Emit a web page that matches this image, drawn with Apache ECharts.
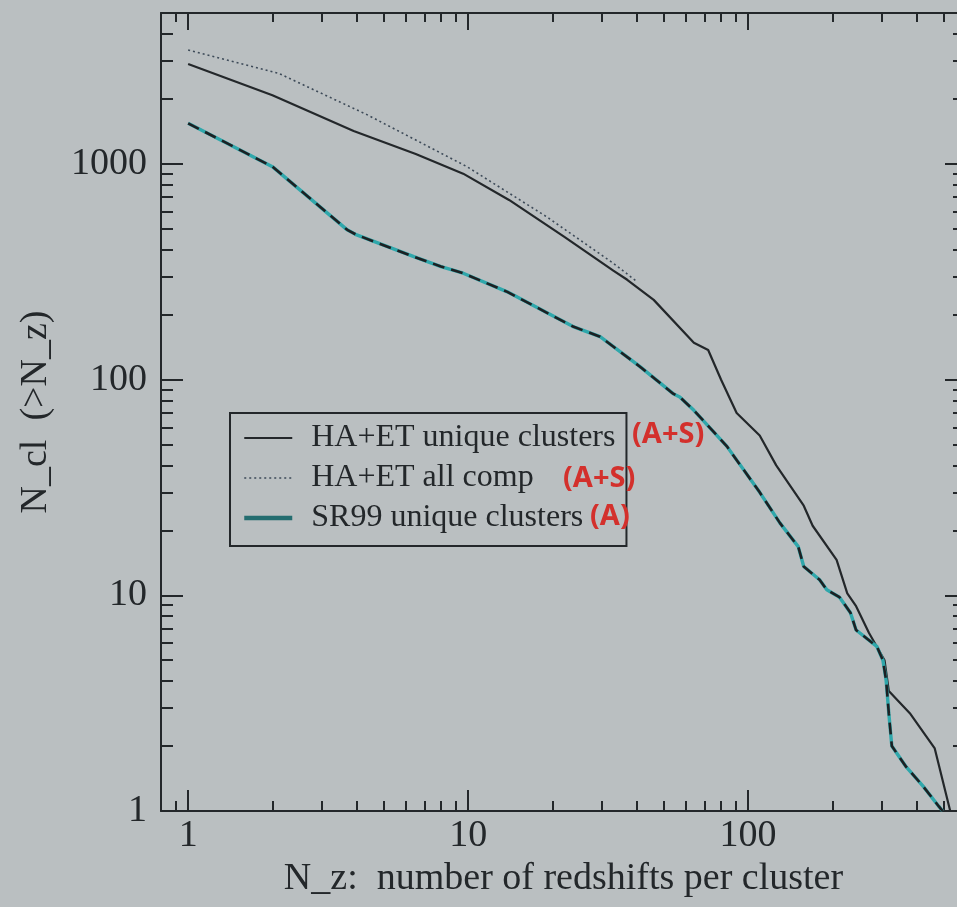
<!DOCTYPE html>
<html>
<head>
<meta charset="utf-8">
<script src="https://cdn.jsdelivr.net/npm/echarts@6/dist/echarts.min.js"></script>
<style>
html,body{margin:0;padding:0;background:#babfc1;}
#chart{width:957px;height:907px;}
</style>
</head>
<body>
<div id="chart"></div>
<script>
// ---- data (N_z, N_cl(>N_z)) ----
const haetUnique = [[1,2900],[2,2080],[3.9,1420],[6.5,1110],[9.6,900],[14,680],[22,460],[33,320],[37,290],[46,234],[64,148],[72,137],[80,100],[91,70],[110,55],[126,40],[158,26],[170,21],[207,14.6],[226,10.2],[243,8.9],[270,6.7],[307,5],[318,3.6],[378,2.84],[464,1.95],[527,1]];
const haetAllComp = [[1,3370],[2.1,2630],[4.35,1690],[9.9,970],[19,570],[33,346],[40,285]];
const sr99Unique = [[1,1540],[2,970],[3.7,494],[4,468],[6.4,371],[8,334],[9.6,311],[13.8,255],[23.7,176],[29.6,158],[41,115],[54,86],[57,83],[64,72],[84,49],[110,30],[130,21.6],[151,16.8],[158,13.6],[180,11.8],[191,10.6],[212,9.8],[232,8.3],[243,6.9],[288,5.8],[303,5],[311,4.05],[318,2.84],[326,2],[367,1.6],[422,1.3],[480,1.05],[495,1]];

const seriesNames = ['HA+ET unique clusters','HA+ET all comp','SR99 unique clusters'];
const annotations = ['(A+S)','(A+S)','(A)'];

const xMajorTicks = [1,10,100];
const xMinorTicks = [0.9,2,3,4,5,6,7,8,9,20,30,40,50,60,70,80,90,200,300,400,500];
const yMajorTicks = [1,10,100,1000];
const yMinorTicks = [2,3,4,5,6,7,8,9,20,30,40,50,60,70,80,90,200,300,400,500,600,700,800,900,2000,3000,4000];

const X_MIN = 0.8, X_MAX = 600, Y_MIN = 1, Y_MAX = 5000;

const ink = '#23272a';
const serif = '"Liberation Serif","DejaVu Serif",serif';

function xAx(pos, ticks, len, showLine, labels) {
  return {
    type:'log', logBase:10, min:X_MIN, max:X_MAX, position:pos,
    axisLine:{show:showLine, onZero:false, lineStyle:{color:ink, width:2}},
    axisTick:{show:true, inside:true, length:len, customValues:ticks, lineStyle:{color:ink, width:2}},
    axisLabel:labels ? {show:true, customValues:ticks, formatter:v => String(v), color:ink, fontFamily:serif, fontSize:38, margin:6} : {show:false},
    splitLine:{show:false}, minorTick:{show:false}
  };
}
function yAx(pos, ticks, len, showLine, labels) {
  return {
    type:'log', logBase:10, min:Y_MIN, max:Y_MAX, position:pos,
    axisLine:{show:showLine, onZero:false, lineStyle:{color:ink, width:2}},
    axisTick:{show:true, inside:true, length:len, customValues:ticks, lineStyle:{color:ink, width:2}},
    axisLabel:labels ? {show:true, customValues:ticks, formatter:v => String(v), color:ink, fontFamily:serif, fontSize:38, margin:14} : {show:false},
    splitLine:{show:false}, minorTick:{show:false}
  };
}

const xAxes = [
  Object.assign(xAx('bottom', xMajorTicks, 21, true, true), {
    name:'N_z:  number of redshifts per cluster', nameLocation:'middle', nameGap:47,
    nameTextStyle:{color:ink, fontFamily:serif, fontSize:38}
  }),
  xAx('bottom', xMinorTicks, 10, false, false),
  xAx('top', xMajorTicks, 17, true, false),
  xAx('top', xMinorTicks, 9, false, false)
];
const yAxes = [
  Object.assign(yAx('left', yMajorTicks, 22, true, true), {
    name:'N_cl  (>N_z)', nameLocation:'middle', nameGap:106,
    nameTextStyle:{color:ink, fontFamily:serif, fontSize:38}
  }),
  yAx('left', yMinorTicks, 12, false, false),
  yAx('right', yMajorTicks, 21, true, false),
  yAx('right', yMinorTicks, 13, false, false)
];

const chart = echarts.init(document.getElementById('chart'), null, {renderer:'canvas'});
chart.setOption({
  backgroundColor:'#babfc1',
  animation:false,
  grid:{left:161, top:13, width:805, height:798, containLabel:false, outerBoundsMode:'none'},
  xAxis:xAxes,
  yAxis:yAxes,
  legend:{
    show:true, orient:'vertical', left:230, top:413,
    data:[
      {name:seriesNames[0], lineStyle:{width:2.2}},
      {name:seriesNames[1], lineStyle:{width:1.6}},
      {name:seriesNames[2], lineStyle:{width:4.5, color:'#246d70'}}
    ],
    itemWidth:48, itemHeight:14, itemGap:8,
    padding:[9,11,12,12],
    borderColor:ink, borderWidth:2, backgroundColor:'rgba(0,0,0,0)',
    itemStyle:{color:'rgba(0,0,0,0)', borderColor:'rgba(0,0,0,0)', borderWidth:0, opacity:0},
    textStyle:{color:ink, fontFamily:serif, fontSize:32, lineHeight:32, padding:[0,0,0,14]}
  },
  series:[
    {name:seriesNames[0], type:'line', data:haetUnique, xAxisIndex:0, yAxisIndex:0,
     symbol:'none', lineStyle:{color:ink, width:2.2}, itemStyle:{color:ink}, z:3},
    {name:seriesNames[1], type:'line', data:haetAllComp, xAxisIndex:0, yAxisIndex:0,
     symbol:'none', lineStyle:{color:'#3d4a58', width:1.6, type:[2,3]}, itemStyle:{color:'#3d4a58'}, z:2},
    {name:seriesNames[2], type:'line', data:sr99Unique, xAxisIndex:0, yAxisIndex:0,
     symbol:'none', lineStyle:{color:'#2fa7ab', width:3.4}, itemStyle:{color:'#2fa7ab'}, z:3},
    {name:seriesNames[2], type:'line', data:sr99Unique, xAxisIndex:0, yAxisIndex:0,
     symbol:'none', lineStyle:{color:'#1c2023', width:2.6, type:[12,7]}, itemStyle:{color:'#1c2023'}, z:4}
  ],
  graphic:[
    {type:'text', left:632, top:420, z:10, style:{text:annotations[0], fill:'#d3302c', font:'bold 29px "Noto Sans", sans-serif'}},
    {type:'text', left:563, top:464, z:10, style:{text:annotations[1], fill:'#d3302c', font:'bold 29px "Noto Sans", sans-serif'}},
    {type:'text', left:590, top:502, z:10, style:{text:annotations[2], fill:'#d3302c', font:'bold 29px "Noto Sans", sans-serif'}}
  ]
});
</script>
</body>
</html>
